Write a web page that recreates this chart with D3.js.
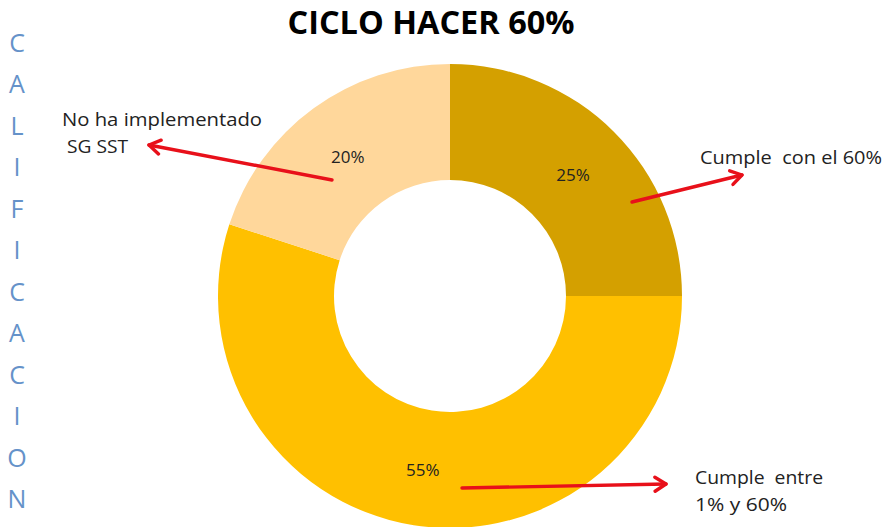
<!DOCTYPE html>
<html>
<head>
<meta charset="utf-8">
<script src="https://cdn.jsdelivr.net/npm/d3@7"></script>
<style>
  html, body { margin: 0; padding: 0; background: #fff; }
  svg { display: block; }
</style>
</head>
<body>
<svg id="chart" width="885" height="527"></svg>
<script>
// ---- data ----
const categories = ["Cumple con el 60%", "Cumple entre 1% y 60%", "No ha implementado SG SST"];
const values = [25, 55, 20];
const valueLabels = ["25%", "55%", "20%"];
const sliceColors = ["#D4A000", "#FFC000", "#FFD79B"];
const titleText = "CICLO HACER 60%";
const sideLetters = "CALIFICACION".split("");
const calloutLines = [["Cumple  con el 60%"], ["Cumple  entre", "1% y 60%"], ["No ha implementado", " SG SST"]];

// ---- layout ----
const W = 885, H = 527;
const cx = 450, cy = 296, rOuter = 232, rInner = 116;
const svg = d3.select("#chart");

// title
svg.append("text")
  .attr("x", 431).attr("y", 34)
  .attr("text-anchor", "middle")
  .attr("font-family", "Open Sans, sans-serif")
  .attr("font-weight", "bold")
  .attr("font-size", 32)
  .attr("textLength", 287).attr("lengthAdjust", "spacingAndGlyphs")
  .attr("fill", "#000")
  .text(titleText);

// vertical letters
const letterY = d3.scalePoint().domain(d3.range(sideLetters.length)).range([43, 499]);
svg.append("g").selectAll("text").data(sideLetters).join("text")
  .attr("x", 17).attr("y", (d, i) => letterY(i) + 9)
  .attr("text-anchor", "middle")
  .attr("font-family", "Open Sans, sans-serif")
  .attr("font-size", 25)
  .attr("fill", "#6592C9")
  .text(d => d);

// donut
const pie = d3.pie().sort(null).value(d => d)(values);
const arc = d3.arc().innerRadius(rInner).outerRadius(rOuter);
const g = svg.append("g").attr("transform", `translate(${cx},${cy})`);
g.selectAll("path").data(pie).join("path")
  .attr("d", arc)
  .attr("fill", (d, i) => sliceColors[i]);

// value labels at slice centroids
g.selectAll("text.val").data(pie).join("text")
  .attr("class", "val")
  .attr("x", d => arc.centroid(d)[0])
  .attr("y", d => arc.centroid(d)[1] + 8)
  .attr("text-anchor", "middle")
  .attr("font-family", "Open Sans, sans-serif")
  .attr("font-size", 17)
  .attr("fill", "#222")
  .text((d, i) => valueLabels[i]);

// arrows
const defs = svg.append("defs");
defs.append("marker")
  .attr("id", "arr")
  .attr("viewBox", "-14 -9 16 18")
  .attr("refX", 0).attr("refY", 0)
  .attr("markerWidth", 16).attr("markerHeight", 18)
  .attr("markerUnits", "userSpaceOnUse")
  .attr("orient", "auto")
  .append("path")
  .attr("d", "M-11,-7 L0,0 L-11,7")
  .attr("fill", "none")
  .attr("stroke", "#E8101A")
  .attr("stroke-width", 3.4)
  .attr("stroke-linecap", "round")
  .attr("stroke-linejoin", "round");

const arrows = [
  [[632, 202], [742, 175]],
  [[462, 488], [666, 484]],
  [[332, 180], [149, 145]]
];
svg.append("g").selectAll("line").data(arrows).join("line")
  .attr("x1", d => d[0][0]).attr("y1", d => d[0][1])
  .attr("x2", d => d[1][0]).attr("y2", d => d[1][1])
  .attr("stroke", "#E8101A")
  .attr("stroke-width", 3.4)
  .attr("stroke-linecap", "round")
  .attr("marker-end", "url(#arr)");

// callout texts
const calloutPos = [[700, 164], [695, 484], [62, 126]];
const calloutWidths = [[182], [128, 92], [200, 66]];
const lineGap = 27;
svg.append("g").selectAll("text").data(calloutLines).join("text")
  .attr("font-family", "Open Sans, sans-serif")
  .attr("font-size", 18)
  .attr("fill", "#222")
  .attr("xml:space", "preserve")
  .style("white-space", "pre")
  .each(function(lines, i) {
    d3.select(this).selectAll("tspan").data(lines).join("tspan")
      .attr("x", calloutPos[i][0])
      .attr("y", (l, j) => calloutPos[i][1] + j * lineGap)
      .attr("textLength", (l, j) => calloutWidths[i][j])
      .attr("lengthAdjust", "spacingAndGlyphs")
      .text(l => l);
  });
</script>
</body>
</html>
